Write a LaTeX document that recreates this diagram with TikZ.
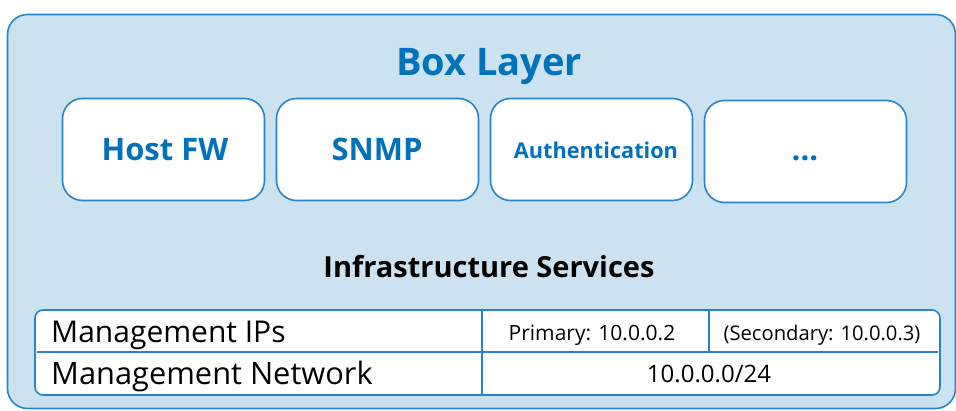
\documentclass[tikz,border=0pt]{standalone}
\usepackage{fontspec}
\setmainfont{Open Sans}
\definecolor{fillblue}{RGB}{204,226,240}
\definecolor{lineblue}{RGB}{38,134,200}
\definecolor{textblue}{RGB}{0,114,188}
\begin{document}
\begin{tikzpicture}[x=1pt,y=-1pt,
  layerbox/.style={draw=lineblue,line width=1.6pt,fill=fillblue,rounded corners=20pt},
  svcbox/.style={draw=lineblue,line width=1.6pt,fill=white,rounded corners=20pt,minimum width=202pt,minimum height=102pt,inner sep=0pt},
  svctext/.style={anchor=base,inner sep=0pt,text=textblue,font=\bfseries\fontsize{31}{34}\selectfont},
  celltext/.style={anchor=base,inner sep=0pt,font=\fontsize{21}{24}\selectfont},
  rowtext/.style={anchor=base west,inner sep=0pt,font=\fontsize{30}{33}\selectfont},
  tablebox/.style={draw=lineblue,line width=1.6pt,fill=white,rounded corners=8pt},
  tline/.style={draw=lineblue,line width=1.6pt}]
\useasboundingbox (0,0) rectangle (956,410);
\draw[layerbox] (7.5,14.5) rectangle (955.5,408.5);
\node[anchor=base,inner sep=0pt,text=textblue,font=\bfseries\fontsize{38}{42}\selectfont] (title) at (489,75) {Box Layer};
\node[svcbox] (fw) at (163.5,149.5) {};
\node[svcbox] (snmp) at (377.5,149.5) {};
\node[svcbox] (auth) at (591.5,149.5) {};
\node[svcbox] (more) at (805.5,151.5) {};
\node[svctext] (fwt) at (165,160) {Host FW};
\node[svctext] (snmpt) at (377,160) {SNMP};
\node[svctext,font=\bfseries\fontsize{21.7}{25}\selectfont] (autht) at (596,158) {Authentication};
\node[svctext] (moret) at (805,160) {...};
\node[anchor=base,inner sep=0pt,font=\bfseries\fontsize{29}{32}\selectfont] (infra) at (489,277) {Infrastructure Services};
\draw[tablebox] (35,310) rectangle (940,395);
\coordinate (hl) at (37,352);
\coordinate (hr) at (938,352);
\coordinate (v1t) at (482,310);
\coordinate (v1b) at (482,395);
\coordinate (v2t) at (709,310);
\coordinate (v2b) at (709,352);
\draw[tline] (hl) -- (hr);
\draw[tline] (v1t) -- (v1b);
\draw[tline] (v2t) -- (v2b);
\node[rowtext] (mips) at (51,342) {Management IPs};
\node[rowtext,font=\fontsize{30.8}{33}\selectfont] (mnet) at (51,384) {Management Network};
\node[celltext] (prim) at (592,340) {Primary: 10.0.0.2};
\node[celltext,font=\fontsize{20.2}{23}\selectfont] (sec) at (822,340) {(Secondary: 10.0.0.3)};
\node[celltext,font=\fontsize{24}{27}\selectfont] (net) at (709,382) {10.0.0.0/24};
\end{tikzpicture}
\end{document}
